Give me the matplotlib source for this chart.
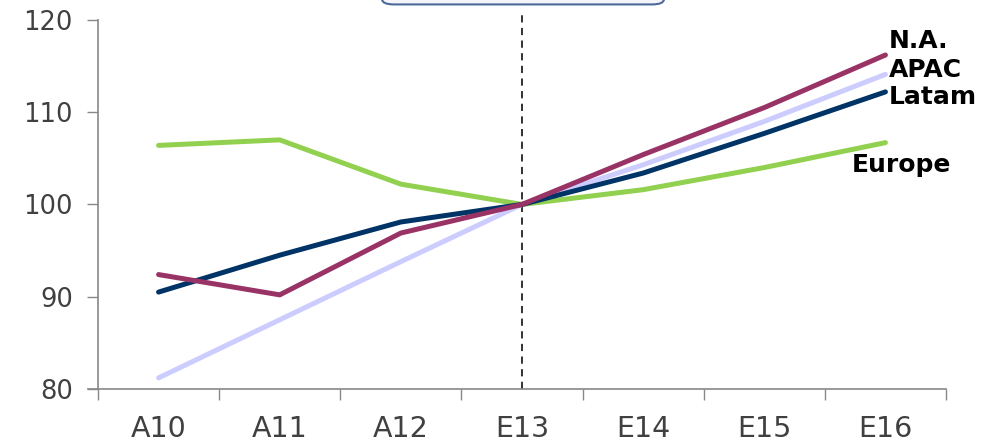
import matplotlib.pyplot as plt
from matplotlib.patches import FancyBboxPatch

periods = ["A10", "A11", "A12", "E13", "E14", "E15", "E16"]
europe = [106.4, 107.0, 102.2, 100.0, 101.6, 104.0, 106.7]
north_america = [92.4, 90.2, 96.9, 100.0, 105.4, 110.5, 116.2]
apac = [81.2, 87.5, 93.8, 100.0, 104.3, 109.0, 114.1]
latam = [90.5, 94.5, 98.1, 100.0, 103.4, 107.7, 112.2]

series = [
    ("Europe", europe, "#92D050"),
    ("APAC", apac, "#CCCCFF"),
    ("Latam", latam, "#003366"),
    ("N.A.", north_america, "#993366"),
]
label_pos = {"N.A.": 117.7, "APAC": 114.6, "Latam": 111.7, "Europe": 104.3}
label_x = {"N.A.": 6.03, "APAC": 6.03, "Latam": 6.03, "Europe": 5.72}

fig = plt.figure(figsize=(10, 4.43), dpi=100)
ax = fig.add_axes([0.098, 0.122, 0.848, 0.833])

x = list(range(len(periods)))
for name, vals, color in series:
    ax.plot(x, vals, color=color, lw=3.6, solid_capstyle="round", zorder=3)
    ax.text(label_x[name], label_pos[name], name, fontsize=18, fontweight="bold",
            color="black", va="center", ha="left", clip_on=False)

ax.plot([3, 3], [80, 120.6], color="#222222", lw=1.3, ls=(0, (4, 3)),
        clip_on=False, zorder=2)

ax.set_xlim(-0.5, 6.5)
ax.set_ylim(80, 120)
ax.set_yticks([80, 90, 100, 110, 120])
ax.set_xticks(x)
ax.set_xticklabels(periods)
ax.set_xticks([i - 0.5 for i in range(8)], minor=True)
ax.tick_params(axis="x", which="major", length=0, pad=19, labelsize=20.5)
ax.tick_params(axis="x", which="minor", length=8, color="#888888", width=1)
ax.tick_params(axis="y", length=8, color="#888888", width=1, pad=10, labelsize=18.5)
ax.tick_params(labelcolor="#404040")
for s in ["top", "right"]:
    ax.spines[s].set_visible(False)
for s in ["left", "bottom"]:
    ax.spines[s].set_color("#888888")
    ax.spines[s].set_linewidth(1.2)
ax.spines["bottom"].set_bounds(-0.58, 6.5)

box = FancyBboxPatch((0.382, 0.99), 0.282, 0.05, transform=fig.transFigure,
                     boxstyle="round,pad=0,rounding_size=0.012",
                     facecolor="#F4F6FA", edgecolor="#4F6A9A", lw=1.5,
                     clip_on=False)
fig.patches.append(box)

fig.savefig("out.png", dpi=100)
